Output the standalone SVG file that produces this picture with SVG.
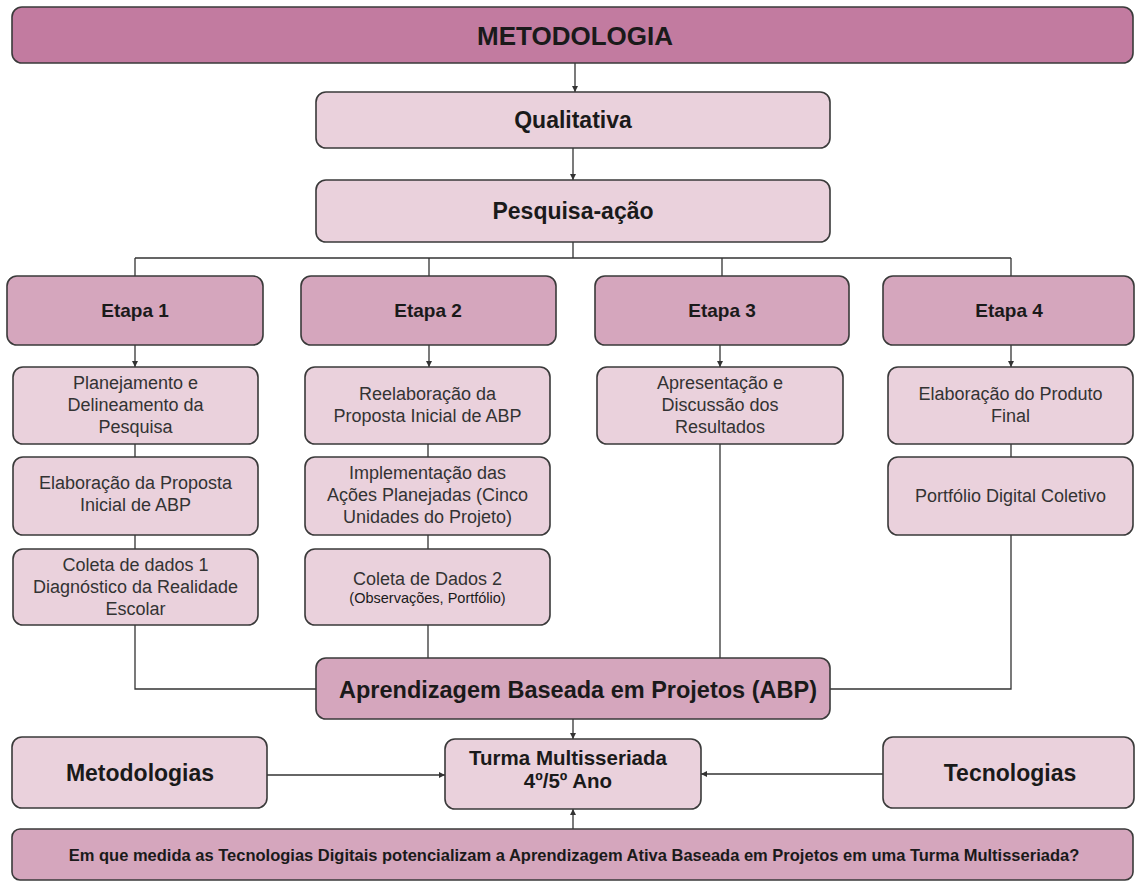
<svg xmlns="http://www.w3.org/2000/svg" width="1136" height="882" viewBox="0 0 1136 882">
<style>
.box{stroke:#3a3a3a;stroke-width:1.6}
.c1{fill:#c27ba0}
.c2{fill:#d5a6bd}
.c3{fill:#ead1dc}
text{font-family:"Liberation Sans",Arial,sans-serif;fill:#1a1a1a;text-anchor:middle}
.b{font-weight:bold}
.n{font-size:18px;fill:#333}
.conn line,.conn path{stroke:#333;stroke-width:1.3;fill:none}
</style>
<defs>
<marker id="ah" viewBox="0 0 10 10" refX="10" refY="5" markerWidth="6" markerHeight="6" markerUnits="userSpaceOnUse" orient="auto">
<path d="M0,0 L10,5 L0,10 z" fill="#333"/>
</marker>
</defs>
<rect width="1136" height="882" fill="#fff"/>

<g class="conn">
<line x1="575" y1="63" x2="575" y2="92" marker-end="url(#ah)"/>
<line x1="573" y1="148" x2="573" y2="180" marker-end="url(#ah)"/>
<path d="M573,242 V258 M135,258 H1011 M135,258 V276 M429,258 V276 M722,258 V276 M1011,258 V276"/>
<line x1="135" y1="345" x2="135" y2="367" marker-end="url(#ah)"/>
<line x1="429" y1="345" x2="429" y2="367" marker-end="url(#ah)"/>
<line x1="720" y1="345" x2="720" y2="367" marker-end="url(#ah)"/>
<line x1="1011" y1="345" x2="1011" y2="367" marker-end="url(#ah)"/>
<path d="M135,444 V457 M135,535 V549 M428,444 V457 M428,535 V549 M1011,444 V457"/>
<path d="M135,625 V689 H316"/>
<path d="M428,625 V658"/>
<path d="M720,444 V658"/>
<path d="M1011,535 V689 H830"/>
<line x1="573" y1="719" x2="573" y2="739" marker-end="url(#ah)"/>
<line x1="267" y1="775" x2="445" y2="775" marker-end="url(#ah)"/>
<line x1="883" y1="774" x2="701" y2="774" marker-end="url(#ah)"/>
<line x1="573" y1="829" x2="573" y2="809" marker-end="url(#ah)"/>
</g>

<g id="metodologia">
<rect class="box c1" x="12" y="7" width="1121" height="56" rx="10"/>
<text class="b" x="575" y="45" font-size="26">METODOLOGIA</text>
</g>
<g id="qualitativa">
<rect class="box c3" x="316" y="92" width="514" height="56" rx="10"/>
<text class="b" x="573" y="128" font-size="23">Qualitativa</text>
</g>
<g id="pesquisa">
<rect class="box c3" x="316" y="180" width="514" height="62" rx="10"/>
<text class="b" x="573" y="219" font-size="23">Pesquisa-ação</text>
</g>

<g id="etapa1">
<rect class="box c2" x="7" y="276" width="256" height="69" rx="10"/>
<text class="b" x="135" y="317" font-size="19">Etapa 1</text>
</g>
<g id="etapa2">
<rect class="box c2" x="301" y="276" width="255" height="69" rx="10"/>
<text class="b" x="428" y="317" font-size="19">Etapa 2</text>
</g>
<g id="etapa3">
<rect class="box c2" x="595" y="276" width="254" height="69" rx="10"/>
<text class="b" x="722" y="317" font-size="19">Etapa 3</text>
</g>
<g id="etapa4">
<rect class="box c2" x="883" y="276" width="251" height="69" rx="10"/>
<text class="b" x="1009" y="317" font-size="19">Etapa 4</text>
</g>

<g id="e1s1">
<rect class="box c3" x="13" y="367" width="245" height="77" rx="10"/>
<text class="n" x="135.5" y="389">Planejamento e</text>
<text class="n" x="135.5" y="411">Delineamento da</text>
<text class="n" x="135.5" y="433">Pesquisa</text>
</g>
<g id="e1s2">
<rect class="box c3" x="13" y="457" width="245" height="78" rx="10"/>
<text class="n" x="135.5" y="489">Elaboração da Proposta</text>
<text class="n" x="135.5" y="511">Inicial de ABP</text>
</g>
<g id="e1s3">
<rect class="box c3" x="13" y="549" width="245" height="76" rx="10"/>
<text class="n" x="135.5" y="571">Coleta de dados 1</text>
<text class="n" x="135.5" y="593">Diagnóstico da Realidade</text>
<text class="n" x="135.5" y="615">Escolar</text>
</g>

<g id="e2s1">
<rect class="box c3" x="305" y="367" width="245" height="77" rx="10"/>
<text class="n" x="427.5" y="400">Reelaboração da</text>
<text class="n" x="427.5" y="422">Proposta Inicial de ABP</text>
</g>
<g id="e2s2">
<rect class="box c3" x="305" y="457" width="245" height="78" rx="10"/>
<text class="n" x="427.5" y="479">Implementação das</text>
<text class="n" x="427.5" y="501">Ações Planejadas (Cinco</text>
<text class="n" x="427.5" y="523">Unidades do Projeto)</text>
</g>
<g id="e2s3">
<rect class="box c3" x="305" y="549" width="245" height="76" rx="10"/>
<text class="n" x="427.5" y="585">Coleta de Dados 2</text>
<text x="427.5" y="603" font-size="14.5" fill="#333">(Observações, Portfólio)</text>
</g>

<g id="e3s1">
<rect class="box c3" x="597" y="367" width="246" height="77" rx="10"/>
<text class="n" x="720" y="389">Apresentação e</text>
<text class="n" x="720" y="411">Discussão dos</text>
<text class="n" x="720" y="433">Resultados</text>
</g>

<g id="e4s1">
<rect class="box c3" x="888" y="367" width="245" height="77" rx="10"/>
<text class="n" x="1010.5" y="400">Elaboração do Produto</text>
<text class="n" x="1010.5" y="422">Final</text>
</g>
<g id="e4s2">
<rect class="box c3" x="888" y="457" width="245" height="78" rx="10"/>
<text class="n" x="1010.5" y="502">Portfólio Digital Coletivo</text>
</g>

<g id="abp">
<rect class="box c2" x="316" y="658" width="514" height="61" rx="10"/>
<text class="b" x="578" y="698" font-size="23.5">Aprendizagem Baseada em Projetos (ABP)</text>
</g>

<g id="metodologias">
<rect class="box c3" x="12" y="737" width="255" height="71" rx="10"/>
<text class="b" x="140" y="781" font-size="23">Metodologias</text>
</g>
<g id="turma">
<rect class="box c3" x="445" y="739" width="256" height="70" rx="10"/>
<text class="b" x="568" y="765" font-size="20.5">Turma Multisseriada</text>
<text class="b" x="568" y="788" font-size="20.5">4º/5º Ano</text>
</g>
<g id="tecnologias">
<rect class="box c3" x="883" y="737" width="251" height="71" rx="10"/>
<text class="b" x="1010" y="781" font-size="23">Tecnologias</text>
</g>

<g id="pergunta">
<rect class="box c2" x="12" y="829" width="1121" height="51" rx="8"/>
<text class="b" x="574" y="861" font-size="16.5">Em que medida as Tecnologias Digitais potencializam a Aprendizagem Ativa Baseada em Projetos em uma Turma Multisseriada?</text>
</g>
</svg>
